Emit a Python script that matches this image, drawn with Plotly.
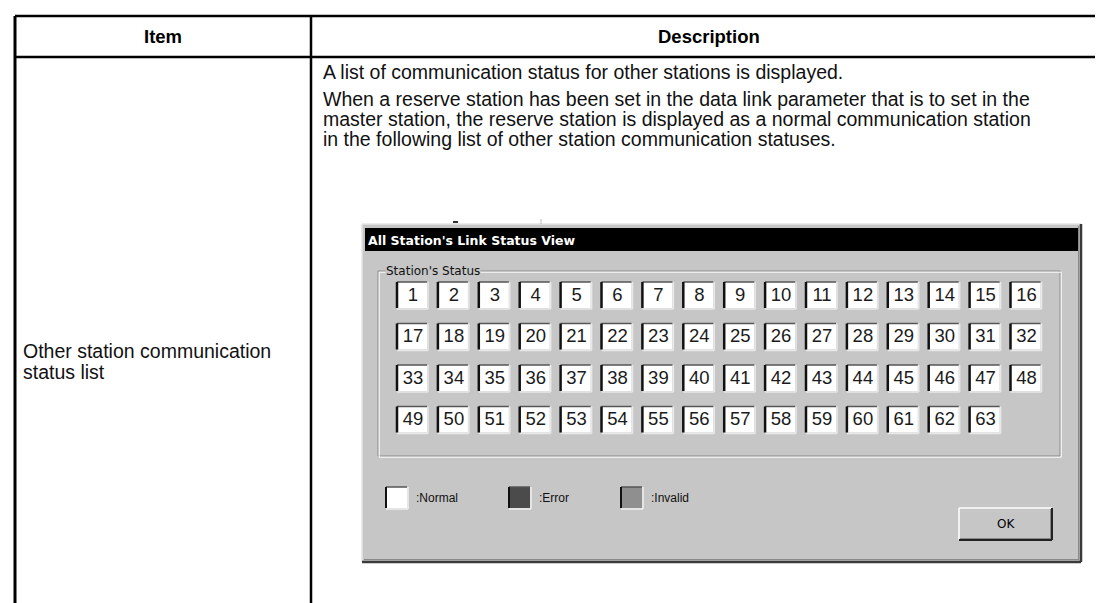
import plotly.graph_objects as go

# ---------------- data ----------------
header_labels = ["Item", "Description"]
item_lines = ["Other station communication", "status list"]
desc_lines = [
    "A list of communication status for other stations is displayed.",
    "When a reserve station has been set in the data link parameter that is to set in the",
    "master station, the reserve station is displayed as a normal communication station",
    "in the following list of other station communication statuses.",
]
dialog_title = "All Station's Link Status View"
group_title = "Station's Status"
stations = [1, 2, 3, 4, 5, 6, 7, 8, 9, 10, 11, 12, 13, 14, 15, 16,
            17, 18, 19, 20, 21, 22, 23, 24, 25, 26, 27, 28, 29, 30, 31, 32,
            33, 34, 35, 36, 37, 38, 39, 40, 41, 42, 43, 44, 45, 46, 47, 48,
            49, 50, 51, 52, 53, 54, 55, 56, 57, 58, 59, 60, 61, 62, 63]
station_status = ["Normal"] * len(stations)
legend_labels = [":Normal", ":Error", ":Invalid"]
legend_status = ["Normal", "Error", "Invalid"]
button_label = "OK"

# ---------------- styles / layout constants ----------------
W, H = 1103, 603
status_color = {"Normal": "#ffffff", "Error": "#4b4b4b", "Invalid": "#8f8f8f"}
GRAY = "#c6c6c6"
TXT_FONT = "Liberation Sans, Arial, sans-serif"
UI_FONT = "DejaVu Sans, Verdana, sans-serif"

TBL_L, TBL_R, TBL_T, HEAD_B, COL_X = 7, 1099, 8, 49, 303
DESC_Y = [64, 91, 111, 131]
ITEM_Y = [343, 364]

WIN_L, WIN_R, WIN_T, WIN_B = 354, 1073, 216, 554
TITLE_T, TITLE_B = 220, 243
GRP_L, GRP_R, GRP_T, GRP_B = 370, 1052, 263, 448
BOX_X0, BOX_Y0, PITCH_X, PITCH_Y, BOX_W, BOX_H = 389, 274, 40.9, 41.5, 30, 26
COLS = 16
LEG_X = [378, 501, 613]
LEG_Y0, LEG_S = 479, 21
BTN = (951, 500, 1044, 532)

shapes = []
annotations = []


def line(x0, y0, x1, y1, color, w=1):
    shapes.append(dict(type="line", x0=x0, y0=y0, x1=x1, y1=y1,
                       line=dict(color=color, width=w), layer="below"))


def rect(x0, y0, x1, y1, fill, lc=None, w=0):
    shapes.append(dict(type="rect", x0=x0, y0=y0, x1=x1, y1=y1,
                       fillcolor=fill, line=dict(color=lc or fill, width=w),
                       layer="below"))


def text(x, y, s, size, color="black", family=TXT_FONT, xanchor="left", bold=False, bg=None):
    annotations.append(dict(x=x, y=y, xref="x", yref="y", text=("<b>%s</b>" % s) if bold else s,
                            showarrow=False, xanchor=xanchor, yanchor="middle",
                            font=dict(size=size, color=color, family=family),
                            bgcolor=bg, borderpad=0))


# ---------------- table ----------------
line(TBL_L, TBL_T, TBL_R, TBL_T, "black", 2.5)
line(TBL_L, HEAD_B, TBL_R, HEAD_B, "black", 2.5)
line(TBL_L, TBL_T, TBL_L, H, "black", 3)
line(COL_X, TBL_T, COL_X, H, "black", 2.5)
line(TBL_R, TBL_T, TBL_R, H, "black", 1.5)
text((TBL_L + COL_X) / 2, (TBL_T + HEAD_B) / 2, header_labels[0], 18.5, bold=True, xanchor="center")
text((COL_X + TBL_R) / 2, (TBL_T + HEAD_B) / 2, header_labels[1], 18.5, bold=True, xanchor="center")
for s, y in zip(desc_lines, DESC_Y):
    text(314, y, s, 19.5, color="#111111")
for s, y in zip(item_lines, ITEM_Y):
    text(14, y, s, 19.5, color="#111111")

# ---------------- dialog window ----------------
rect(WIN_L, WIN_T, WIN_R, WIN_B, GRAY)
line(WIN_L, WIN_T, WIN_R, WIN_T, "#e4e4e4", 1.5)
line(WIN_L, WIN_T, WIN_L, WIN_B, "#e4e4e4", 1.5)
line(WIN_R, WIN_T, WIN_R, WIN_B, "#3a3a3a", 2.5)
line(WIN_L, WIN_B, WIN_R, WIN_B, "#3a3a3a", 2.5)
line(WIN_R - 2.5, WIN_T + 2, WIN_R - 2.5, WIN_B - 2, "#8a8a8a", 1)
line(WIN_L + 2, WIN_B - 2.5, WIN_R - 2, WIN_B - 2.5, "#8a8a8a", 1)
# remnants above the cropped window
line(445, 214, 450, 214, "#333333", 2)
line(533, 211, 533, 216, "#bbbbbb", 1)
# title bar
rect(WIN_L + 3, TITLE_T, WIN_R - 3, TITLE_B, "black")
text(WIN_L + 5, (TITLE_T + TITLE_B) / 2 + 0.5, dialog_title, 12.5, color="white", family=UI_FONT, bold=True)

# group box (etched)
for off, col in ((0, "#8a8a8a"), (1.2, "#ffffff")):
    shapes.append(dict(type="rect", x0=GRP_L + off, y0=GRP_T + off, x1=GRP_R + off, y1=GRP_B + off,
                       line=dict(color=col, width=1), fillcolor="rgba(0,0,0,0)", layer="below"))
text(GRP_L + 7, GRP_T, group_title, 12, family=UI_FONT, bg=GRAY, color="#111111")

# station boxes
xs, ys, labels = [], [], []
for i, (st, stat) in enumerate(zip(stations, station_status)):
    r, c = divmod(i, COLS)
    x0 = BOX_X0 + c * PITCH_X
    y0 = BOX_Y0 + r * PITCH_Y
    x1, y1 = x0 + BOX_W, y0 + BOX_H
    rect(x0, y0, x1, y1, status_color[stat])
    line(x0, y1 + 1, x1 + 1, y1 + 1, "#e8e8e8", 1.5)
    line(x1 + 1, y0, x1 + 1, y1 + 1, "#e8e8e8", 1.5)
    line(x0, y0, x1, y0, "#555555", 1.5)
    line(x0, y0, x0, y1, "#111111", 2.5)
    xs.append(x0 + BOX_W / 2 + 1)
    ys.append(y0 + BOX_H / 2 + 1)
    labels.append(str(st))

# legend
for lx, lab, stat in zip(LEG_X, legend_labels, legend_status):
    x1, y1 = lx + LEG_S, LEG_Y0 + LEG_S
    rect(lx, LEG_Y0, x1, y1, status_color[stat])
    line(lx, y1 + 1, x1 + 1, y1 + 1, "#efefef", 1.5)
    line(x1 + 1, LEG_Y0, x1 + 1, y1 + 1, "#efefef", 1.5)
    line(lx, LEG_Y0, x1, LEG_Y0, "#555555", 1.5)
    line(lx, LEG_Y0, lx, y1, "#111111", 2)
    text(x1 + 8, LEG_Y0 + LEG_S / 2, lab, 12, family="Liberation Sans Narrow, Liberation Sans, Arial", color="#111111")

# OK button
bx0, by0, bx1, by1 = BTN
rect(bx0, by0, bx1, by1, GRAY)
line(bx0, by0, bx1, by0, "#ffffff", 1.5)
line(bx0, by0, bx0, by1, "#ffffff", 1.5)
line(bx0, by1, bx1, by1, "#222222", 2)
line(bx1, by0, bx1, by1, "#222222", 2)
line(bx0 + 1, by1 - 1.5, bx1 - 1.5, by1 - 1.5, "#888888", 1)
line(bx1 - 1.5, by0 + 1, bx1 - 1.5, by1 - 1, "#888888", 1)
text((bx0 + bx1) / 2, (by0 + by1) / 2, button_label, 12, family=UI_FONT, xanchor="center")

fig = go.Figure()
fig.add_trace(go.Scatter(x=xs, y=ys, text=labels, mode="text",
                         textfont=dict(size=18.5, family=TXT_FONT, color="#1a1a1a"),
                         hoverinfo="skip", showlegend=False, cliponaxis=False))
fig.update_layout(
    width=W, height=H, margin=dict(l=0, r=0, t=0, b=0),
    paper_bgcolor="white", plot_bgcolor="white",
    xaxis=dict(range=[0, W], visible=False, fixedrange=True),
    yaxis=dict(range=[H, 0], visible=False, fixedrange=True),
    shapes=shapes, annotations=annotations, showlegend=False,
)
fig.write_html("out.html")
